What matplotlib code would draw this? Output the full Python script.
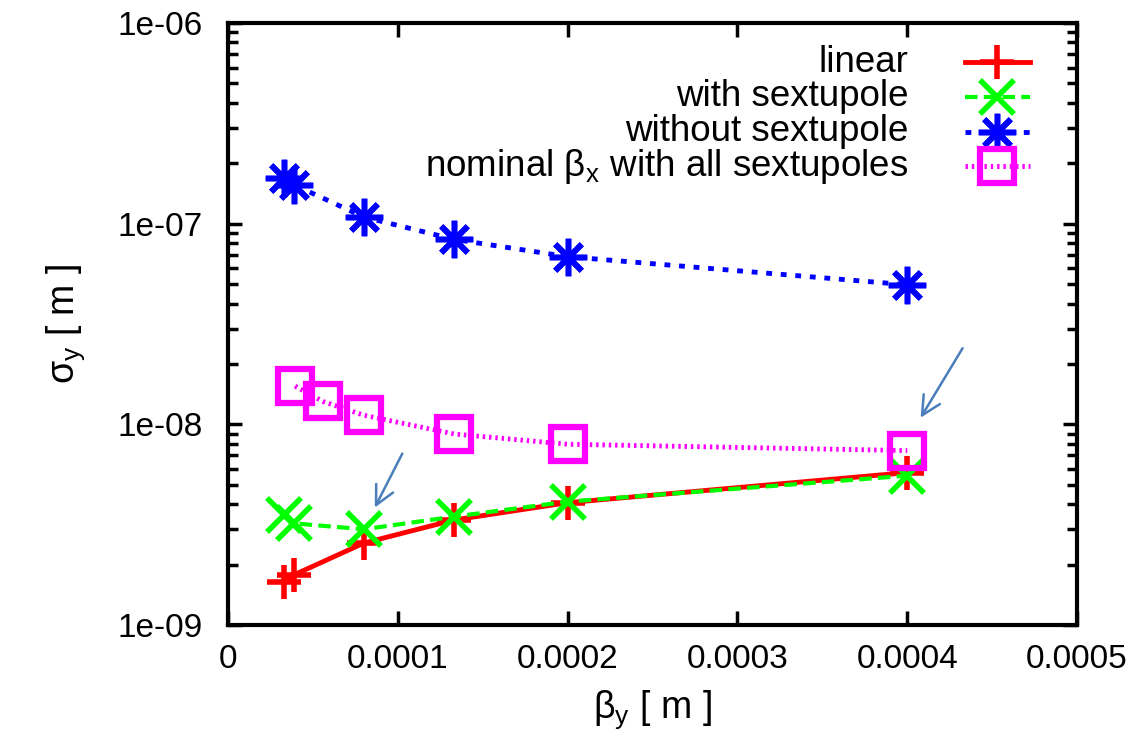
import matplotlib
matplotlib.use("Agg")
import matplotlib.pyplot as plt
from matplotlib.lines import Line2D
from matplotlib.ticker import FuncFormatter, LogLocator, MultipleLocator, NullFormatter

plt.rcParams["font.family"] = ["Liberation Sans", "DejaVu Sans"]

# beta_y [m] for each run
beta_y = [3.3e-5, 3.9e-5, 8.0e-5, 1.333e-4, 2.0e-4, 4.0e-4]
beta_y_nominal = [3.95e-5, 5.6e-5, 8.0e-5, 1.333e-4, 2.0e-4, 4.0e-4]

# sigma_y [m]
sigma_linear = [1.64e-9, 1.78e-9, 2.56e-9, 3.34e-9, 4.07e-9, 5.75e-9]
sigma_with_sext = [3.54e-9, 3.21e-9, 3.0e-9, 3.47e-9, 4.12e-9, 5.55e-9]
sigma_without_sext = [1.68e-7, 1.56e-7, 1.08e-7, 8.35e-8, 6.85e-8, 4.96e-8]
sigma_nominal = [1.55e-8, 1.30e-8, 1.11e-8, 8.95e-9, 7.96e-9, 7.40e-9]

labels = ["linear", "with sextupole", "without sextupole",
          r"nominal $\mathregular{\beta_x}$ with all sextupoles"]

# annotation arrows (start, end) in data coordinates
arrows = [((1.034e-4, 7.36e-9), (8.57e-5, 3.74e-9)),
          ((4.334e-4, 2.46e-8), (4.07e-4, 1.05e-8))]

styles = [
    dict(color="#ff0000", lw=3.5, ls="-", marker="+", ms=25, mew=4),
    dict(color="#00ff00", lw=3, ls=(0, (3, 1.5)), marker="x", ms=25, mew=4),
    dict(color="#0000ff", lw=3.5, ls=(0, (1.2, 1.8)), marker=(8, 2, 0), ms=27, mew=4),
    dict(color="#ff00ff", lw=3.5, ls=(0, (0.5, 0.8)), marker="s", ms=24, mew=4.5, mfc="none"),
]

fig = plt.figure(figsize=(11.41, 7.38), dpi=100)
ax = fig.add_axes([0.1998, 0.1531, 0.7442, 0.8157])

series = [(beta_y, sigma_linear), (beta_y, sigma_with_sext),
          (beta_y, sigma_without_sext), (beta_y_nominal, sigma_nominal)]
for (xs, ys), st in zip(series, styles):
    ax.plot(xs, ys, **st)

for start, end in arrows:
    ax.annotate("", xy=end, xytext=start,
                arrowprops=dict(arrowstyle="->", color="#4a7ebb", lw=1.8,
                                mutation_scale=34))

# gnuplot-like key: text right aligned, sample on the right
for i, (lab, st) in enumerate(zip(labels, styles)):
    yk = 0.935 - i * 0.0577
    ax.text(0.801, yk, lab, transform=ax.transAxes, ha="right", va="center",
            fontsize=26.5)
    ax.add_line(Line2D([0.868, 0.945], [yk, yk], transform=ax.transAxes,
                       clip_on=False, **{k: v for k, v in st.items() if k != "marker"}))
    ax.add_line(Line2D([0.906], [yk], transform=ax.transAxes, clip_on=False,
                       ls="none", **{k: v for k, v in st.items() if k not in ("ls", "lw")}))

ax.set_yscale("log")
ax.set_xlim(0, 0.0005)
ax.set_ylim(1e-9, 1e-6)

ax.xaxis.set_major_locator(MultipleLocator(0.0001))
ax.xaxis.set_major_formatter(FuncFormatter(lambda v, p: "0" if abs(v) < 1e-12 else f"{v:.4f}"))
ax.yaxis.set_major_locator(LogLocator(base=10))
ax.yaxis.set_minor_locator(LogLocator(base=10, subs=range(2, 10)))
ax.yaxis.set_major_formatter(FuncFormatter(lambda v, p: f"{v:.0e}"))
ax.yaxis.set_minor_formatter(NullFormatter())

ax.tick_params(which="both", direction="in", top=True, right=True, width=2.5, labelsize=24)
ax.tick_params(which="major", length=10)
ax.tick_params(which="minor", length=7)
ax.tick_params(axis="x", pad=14)
ax.tick_params(axis="y", pad=18)
for sp in ax.spines.values():
    sp.set_linewidth(3)

ax.set_xlabel(r"$\mathregular{\beta_y}$ [ m ]", fontsize=27, labelpad=9)
ax.set_ylabel(r"$\mathregular{\sigma_y}$ [ m ]", fontsize=27, labelpad=22)

fig.savefig("out.png", dpi=100)
